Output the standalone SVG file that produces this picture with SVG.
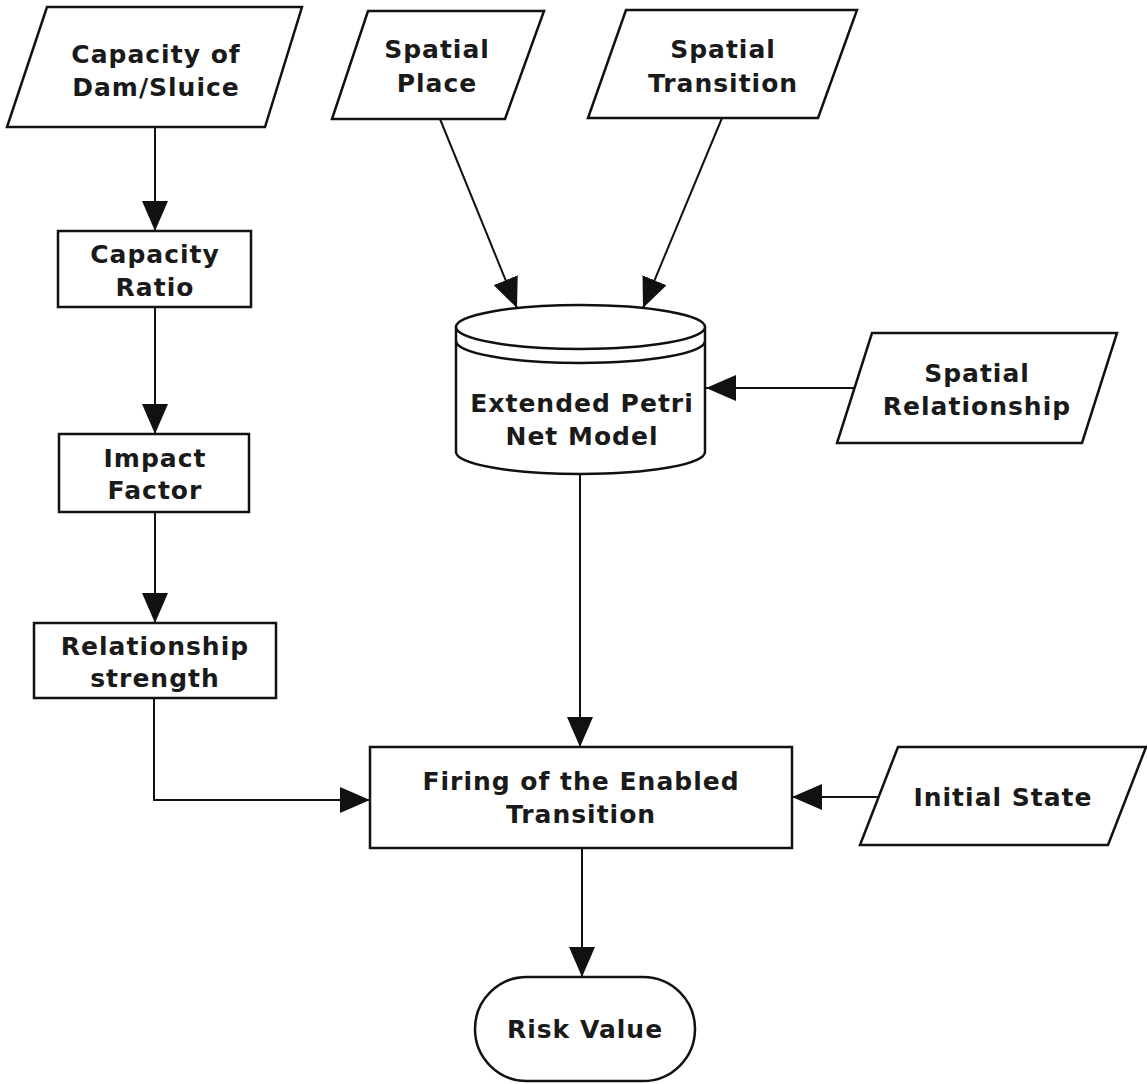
<svg xmlns="http://www.w3.org/2000/svg" width="1147" height="1084" viewBox="0 0 1147 1084">
<style>
  .shape { fill: #ffffff; stroke: #111111; stroke-width: 2.5; }
  .lbl { font-family: "DejaVu Sans", Verdana, sans-serif; font-weight: bold; font-size: 25px; letter-spacing: 1px; fill: #1a1a1a; text-anchor: middle; }
  .conn { fill: none; stroke: #111111; stroke-width: 2; }
</style>
<defs>
  <marker id="arr" markerUnits="userSpaceOnUse" markerWidth="30" markerHeight="26" refX="30" refY="13" orient="auto">
    <path d="M0,0 L30,13 L0,26 Z" fill="#111111"/>
  </marker>
</defs>
<rect width="1147" height="1084" fill="#ffffff"/>

<g id="connectors">
  <line class="conn" x1="155" y1="127" x2="155" y2="231" marker-end="url(#arr)"/>
  <line class="conn" x1="155" y1="307" x2="155" y2="434" marker-end="url(#arr)"/>
  <line class="conn" x1="155" y1="512" x2="155" y2="623" marker-end="url(#arr)"/>
  <path class="conn" d="M154,698 V800 H370" marker-end="url(#arr)"/>
  <line class="conn" x1="440" y1="119" x2="517" y2="308" marker-end="url(#arr)"/>
  <line class="conn" x1="722" y1="118" x2="643" y2="308" marker-end="url(#arr)"/>
  <line class="conn" x1="854" y1="388" x2="706" y2="388" marker-end="url(#arr)"/>
  <line class="conn" x1="580" y1="474" x2="580" y2="747" marker-end="url(#arr)"/>
  <line class="conn" x1="879" y1="797" x2="792" y2="797" marker-end="url(#arr)"/>
  <line class="conn" x1="582" y1="848" x2="582" y2="977" marker-end="url(#arr)"/>
</g>

<g id="capacity-dam">
  <polygon class="shape" points="47,7 302,7 265,127 7,127"/>
  <text class="lbl" x="156" y="63">Capacity of</text>
  <text class="lbl" x="156" y="96">Dam/Sluice</text>
</g>

<g id="capacity-ratio">
  <rect class="shape" x="58" y="231" width="193" height="76"/>
  <text class="lbl" x="155" y="263">Capacity</text>
  <text class="lbl" x="155" y="296">Ratio</text>
</g>

<g id="impact-factor">
  <rect class="shape" x="59" y="434" width="190" height="78"/>
  <text class="lbl" x="155" y="467">Impact</text>
  <text class="lbl" x="155" y="499">Factor</text>
</g>

<g id="relationship-strength">
  <rect class="shape" x="34" y="623" width="242" height="75"/>
  <text class="lbl" x="155" y="655">Relationship</text>
  <text class="lbl" x="155" y="687">strength</text>
</g>

<g id="spatial-place">
  <polygon class="shape" points="368,11 544,11 505,119 332,119"/>
  <text class="lbl" x="437" y="58">Spatial</text>
  <text class="lbl" x="437" y="92">Place</text>
</g>

<g id="spatial-transition">
  <polygon class="shape" points="626,10 857,10 818,118 588,118"/>
  <text class="lbl" x="723" y="58">Spatial</text>
  <text class="lbl" x="723" y="92">Transition</text>
</g>

<g id="petri-net-model">
  <path class="shape" d="M456,327 V452 A124.5,22 0 0 0 705,452 V327"/>
  <ellipse class="shape" cx="580.5" cy="327" rx="124.5" ry="22"/>
  <path class="shape" style="fill:none" d="M456,341 A124.5,22 0 0 0 705,341"/>
  <text class="lbl" x="582" y="412">Extended Petri</text>
  <text class="lbl" x="582" y="445">Net Model</text>
</g>

<g id="spatial-relationship">
  <polygon class="shape" points="872,333 1117,333 1082,443 837,443"/>
  <text class="lbl" x="977" y="382">Spatial</text>
  <text class="lbl" x="977" y="415">Relationship</text>
</g>

<g id="firing">
  <rect class="shape" x="370" y="747" width="422" height="101"/>
  <text class="lbl" x="581" y="790">Firing of the Enabled</text>
  <text class="lbl" x="581" y="823">Transition</text>
</g>

<g id="initial-state">
  <polygon class="shape" points="898,747 1146,747 1108,845 860,845"/>
  <text class="lbl" x="1003" y="806">Initial State</text>
</g>

<g id="risk-value">
  <rect class="shape" x="475" y="977" width="220" height="104" rx="52" ry="52"/>
  <text class="lbl" x="585" y="1038">Risk Value</text>
</g>
</svg>
